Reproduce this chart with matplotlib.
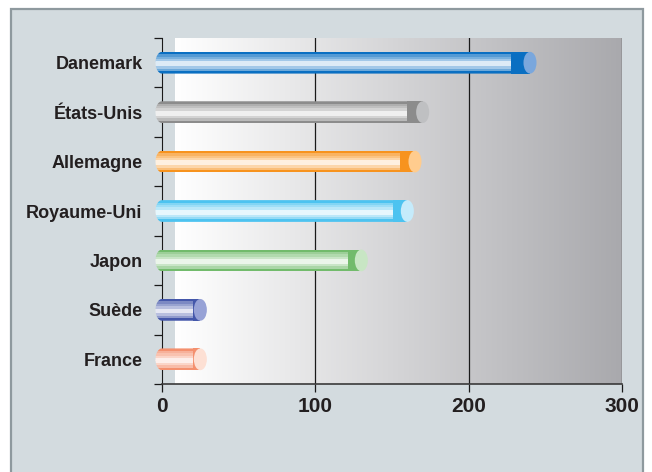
import matplotlib
matplotlib.use("Agg")
import matplotlib.pyplot as plt
import matplotlib.colors as mcolors
from matplotlib.patches import Ellipse, Polygon, Rectangle
import numpy as np

plt.rcParams["font.family"] = ["Liberation Sans", "DejaVu Sans"]

# data
countries = ["Danemark", "États-Unis", "Allemagne", "Royaume-Uni", "Japon", "Suède", "France"]
values    = [240, 170, 165, 160, 130, 25, 25]
xticks    = [0, 100, 200, 300]

# cylinder colours: dark edge, end cap
edge_cols = ["#0a6fc2", "#8c8c8c", "#f7931e", "#4dc3f0", "#72bb6c", "#4457aa", "#f4906e"]
cap_cols  = ["#7aa7dd", "#bfc0c2", "#ffcc8e", "#c5ebfb", "#c8e6c4", "#97a2d6", "#fde0d4"]
# how much white is mixed into each stripe, top to bottom
stripe_mix = [0.0, 0.3, 0.45, 0.62, 0.86, 0.86, 0.62, 0.4, 0.0]

W, H = 652, 472
fig = plt.figure(figsize=(W / 100, H / 100), dpi=100, facecolor="white")
fig.patches.append(Rectangle((11 / W, -0.05), (643 - 11) / W, 1.05 - 9 / H,
                             transform=fig.transFigure, facecolor="#d3dbdf",
                             edgecolor="#8e999e", linewidth=1.6, zorder=-1))

ax = fig.add_axes([162 / W, 1 - 384 / H, (622 - 162) / W, (384 - 38) / H])
ax.set_facecolor("none")
ax.set_xlim(0, 300)
ax.set_ylim(len(countries) - 0.5, -0.5)

# gradient back wall
grad = np.linspace(0, 1, 256).reshape(1, -1)
wall = mcolors.LinearSegmentedColormap.from_list("wall", ["#ffffff", "#a9a9ad"])
ax.imshow(grad, cmap=wall, extent=[8.5, 300, len(countries) - 0.5, -0.5],
          aspect="auto", zorder=0)

for x in xticks[1:]:
    ax.axvline(x, color="#1a1a1a", lw=0.9, zorder=1)

bar_h = 0.44
end_w = 8.5
n = len(stripe_mix)
white = np.array([1.0, 1.0, 1.0])

for i, (v, ec, cc) in enumerate(zip(values, edge_cols, cap_cols)):
    base = np.array(mcolors.to_rgb(ec))
    top = i - bar_h / 2
    # clip region: rounded left end + body
    t = np.linspace(np.pi / 2, 3 * np.pi / 2, 40)
    pts = [(end_w / 2 * np.cos(a), i - bar_h / 2 * np.sin(a)) for a in t]
    pts += [(v, i + bar_h / 2), (v, i - bar_h / 2)]
    clip = Polygon(pts, closed=True, transform=ax.transData, facecolor="none",
                   edgecolor="none")
    ax.add_patch(clip)
    clip.set_clip_box(None)
    for k, m in enumerate(stripe_mix):
        col = base * (1 - m) + white * m
        b = ax.barh(top + (k + 0.5) * bar_h / n, v + end_w, left=-end_w,
                    height=bar_h / n * 1.02, color=col, linewidth=0, zorder=3)
        for p in b:
            p.set_clip_box(None)
            p.set_clip_path(clip)
    band = 4 + 0.035 * v
    ax.barh(i, band, left=v - band, height=bar_h, color=ec, linewidth=0, zorder=4)
    cap = Ellipse((v, i), end_w, bar_h, facecolor=cc, edgecolor="none", zorder=5)
    ax.add_patch(cap)
    cap.set_clip_on(False)

for s in ["top", "right"]:
    ax.spines[s].set_visible(False)
ax.spines["left"].set_color("#1a1a1a")
ax.spines["left"].set_zorder(1)
ax.spines["bottom"].set_color("#3a3a3a")
ax.spines["bottom"].set_linewidth(1.2)

ax.set_xticks(xticks)
ax.set_xticklabels([str(x) for x in xticks], fontsize=15, fontweight="bold",
                   color="#231f20")
ax.tick_params(axis="x", direction="out", length=6, width=0.9, pad=3,
               color="#1a1a1a")

ax.set_yticks(range(len(countries)))
ax.set_yticklabels(countries, fontsize=13, fontweight="bold", color="#231f20")
ax.set_yticks(np.arange(-0.5, len(countries)), minor=True)
ax.tick_params(axis="y", which="major", length=0, pad=14)
ax.tick_params(axis="y", which="minor", direction="out", length=6, width=0.9,
               color="#1a1a1a")

fig.savefig("out.png", dpi=100, facecolor="white")
